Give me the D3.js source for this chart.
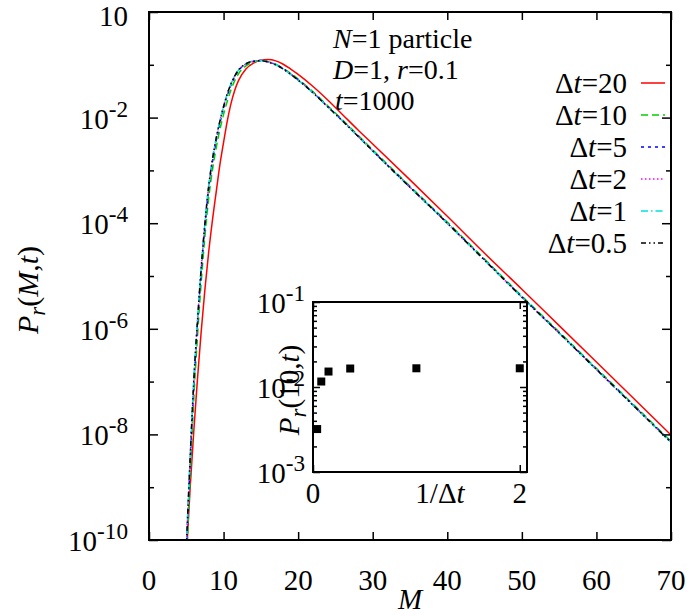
<!DOCTYPE html>
<html><head><meta charset="utf-8">
<script src="https://cdn.jsdelivr.net/npm/d3@7"></script>
<style>
body{margin:0;background:#fff}
svg{display:block}
text{font-family:"Liberation Serif","Times New Roman",Tinos,"DejaVu Serif",serif;fill:#000}
</style>
</head><body>
<svg id="c" width="692" height="616" font-family="Liberation Serif, Times New Roman, serif"></svg>
<script>
// ---------------- data ----------------
const M = [5, 5.5, 6, 6.5, 7, 7.5, 8, 8.5, 9, 9.5, 10, 10.5, 11, 11.5, 12, 13, 14, 15, 16, 17, 18, 19, 20, 22, 24, 26, 28, 30, 35, 40, 45, 50, 55, 60, 65, 70];
// log10 P_r(M,t) for each time step
const logP_dt20 = [-10.35, -9.05, -7.95, -6.95, -6.05, -5.25, -4.55, -3.95, -3.42, -2.9, -2.47, -2.06, -1.73, -1.48, -1.3, -1.08, -0.97, -0.915, -0.9, -0.925, -0.99, -1.08, -1.18, -1.41, -1.67, -1.95, -2.23, -2.5, -3.18, -3.87, -4.57, -5.25, -5.94, -6.63, -7.32, -8.01];
const logP_dt10 = [-10.5, -8.85, -7.35, -6.15, -5.12, -4.25, -3.53, -3.0, -2.58, -2.23, -1.94, -1.69, -1.47, -1.3, -1.17, -1.02, -0.95, -0.92, -0.94, -0.99, -1.07, -1.16, -1.27, -1.51, -1.78, -2.05, -2.33, -2.61, -3.3, -3.98, -4.68, -5.38, -6.06, -6.75, -7.44, -8.13];
const logP_dt5  = [-10.25, -8.6, -7.1, -5.93, -4.92, -4.06, -3.36, -2.85, -2.45, -2.11, -1.82, -1.58, -1.38, -1.23, -1.11, -0.985, -0.935, -0.92, -0.945, -0.995, -1.075, -1.175, -1.285, -1.525, -1.795, -2.065, -2.345, -2.625, -3.315, -3.995, -4.695, -5.395, -6.075, -6.765, -7.455, -8.145];
const logP_dt2  = [-10.17, -8.52, -7.02, -5.86, -4.86, -4.01, -3.31, -2.81, -2.41, -2.07, -1.79, -1.55, -1.36, -1.21, -1.1, -0.98, -0.93, -0.92, -0.95, -1.0, -1.08, -1.18, -1.29, -1.53, -1.8, -2.07, -2.35, -2.63, -3.32, -4.0, -4.7, -5.4, -6.08, -6.77, -7.46, -8.15];
const logP_dt1  = [-10.16, -8.51, -7.01, -5.85, -4.85, -4.0, -3.3, -2.8, -2.4, -2.07, -1.79, -1.55, -1.36, -1.21, -1.1, -0.98, -0.93, -0.92, -0.95, -1.0, -1.08, -1.18, -1.29, -1.53, -1.8, -2.07, -2.35, -2.63, -3.32, -4.0, -4.7, -5.4, -6.08, -6.77, -7.46, -8.15];
const logP_dt05 = [-10.15, -8.5, -7.0, -5.85, -4.85, -4.0, -3.3, -2.8, -2.4, -2.07, -1.79, -1.55, -1.36, -1.21, -1.1, -0.98, -0.93, -0.92, -0.95, -1.0, -1.08, -1.18, -1.29, -1.53, -1.8, -2.07, -2.35, -2.63, -3.32, -4.0, -4.7, -5.4, -6.08, -6.77, -7.46, -8.15];
const seriesNames = ["20", "10", "5", "2", "1", "0.5"];
const seriesColors = ["#ff0000", "#00d000", "#0000ff", "#ff00ff", "#00e0e0", "#000000"];
const seriesDash = [null, "7,4", "3,4", "1.5,2.5", "7,3,1.5,3", "5,3,1.5,3,1.5,3"];

const xTicks = [0, 10, 20, 30, 40, 50, 60, 70];
const yMajor = [1, 1e-2, 1e-4, 1e-6, 1e-8, 1e-10];
const yMajorLabels = [["10", ""], ["10", "-2"], ["10", "-4"], ["10", "-6"], ["10", "-8"], ["10", "-10"]];
const yMinor = [1e-1, 1e-3, 1e-5, 1e-7, 1e-9];

// inset data (positions)
const invDt = [0.04, 0.08, 0.15, 0.36, 1, 2];
const P10 = [0.0032, 0.0116, 0.0152, 0.0165, 0.0166, 0.0166];
const insetYTicks = [1e-1, 1e-2, 1e-3];
const insetYLabels = [["10", "-1"], ["10", "-2"], ["10", "-3"]];
const insetXTicks = [0, 2];

// ---------------- drawing ----------------
const svg = d3.select("#c");
const FS = 29;
const L = 149, R = 671, T = 12, B = 540;
const x = d3.scaleLinear().domain([0, 70]).range([L, R]);
const y = d3.scaleLog().domain([1e-10, 1]).range([B, T]);

svg.append("defs").append("clipPath").attr("id", "clipMain")
  .append("rect").attr("x", L).attr("y", T).attr("width", R - L).attr("height", B - T);

const allSeries = [logP_dt20, logP_dt10, logP_dt5, logP_dt2, logP_dt1, logP_dt05];
const line = d3.line().x(d => x(d[0])).y(d => y(Math.pow(10, d[1]))).curve(d3.curveMonotoneX);
const gLines = svg.append("g").attr("clip-path", "url(#clipMain)");
allSeries.forEach((s, i) => {
  gLines.append("path")
    .attr("d", line(M.map((m, j) => [m, s[j]])))
    .attr("fill", "none")
    .attr("stroke", seriesColors[i])
    .attr("stroke-width", 1.5)
    .attr("stroke-dasharray", seriesDash[i]);
});

// axes ticks (inward, mirrored)
const axG = svg.append("g");
axG.append("g").attr("transform", `translate(0,${B})`)
  .call(d3.axisBottom(x).tickValues(xTicks).tickSize(-8).tickFormat(""));
axG.append("g").attr("transform", `translate(0,${T})`)
  .call(d3.axisTop(x).tickValues(xTicks).tickSize(-8).tickFormat(""));
axG.append("g").attr("transform", `translate(${L},0)`)
  .call(d3.axisLeft(y).tickValues(yMajor).tickSize(-9).tickFormat(""));
axG.append("g").attr("transform", `translate(${R},0)`)
  .call(d3.axisRight(y).tickValues(yMajor).tickSize(-9).tickFormat(""));
axG.append("g").attr("transform", `translate(${L},0)`)
  .call(d3.axisLeft(y).tickValues(yMinor).tickSize(-5).tickFormat(""));
axG.append("g").attr("transform", `translate(${R},0)`)
  .call(d3.axisRight(y).tickValues(yMinor).tickSize(-5).tickFormat(""));
axG.selectAll(".domain").remove();
axG.selectAll(".tick line").attr("stroke", "#000").attr("stroke-width", 1.5);

svg.append("rect").attr("x", L).attr("y", T).attr("width", R - L).attr("height", B - T)
  .attr("fill", "none").attr("stroke", "#000").attr("stroke-width", 2);

// tick labels
xTicks.forEach(v => {
  svg.append("text").attr("x", x(v)).attr("y", B + 50).attr("text-anchor", "middle")
    .attr("font-size", FS).text(v);
});
function powLabel(sel, base, sup) {
  sel.append("tspan").text(base);
  if (sup) sel.append("tspan").attr("dy", -12).attr("font-size", FS * 0.8).text(sup);
}
yMajor.forEach((v, i) => {
  const t = svg.append("text").attr("x", 128).attr("y", Math.max(y(v) + 11, 26)).attr("text-anchor", "end")
    .attr("font-size", FS);
  powLabel(t, yMajorLabels[i][0], yMajorLabels[i][1]);
});

// axis titles
svg.append("text").attr("x", (L + R) / 2).attr("y", 609).attr("text-anchor", "middle")
  .attr("font-size", FS).attr("font-style", "italic").text("M");
function prLabel(t, inner) {
  t.append("tspan").attr("font-style", "italic").text("P");
  t.append("tspan").attr("font-style", "italic").attr("font-size", FS * 0.8).attr("dy", 7).text("r");
  t.append("tspan").attr("dy", -7).text("(");
  inner(t);
  t.append("tspan").text(",");
  t.append("tspan").attr("font-style", "italic").text("t");
  t.append("tspan").text(")");
}
const yl = svg.append("text").attr("transform", `translate(38,290) rotate(-90)`)
  .attr("text-anchor", "middle").attr("font-size", FS + 1);
prLabel(yl, t => t.append("tspan").attr("font-style", "italic").text("M"));

// annotation text
const annX = 333, annFS = 28;
const a1 = svg.append("text").attr("x", annX).attr("y", 48).attr("font-size", annFS);
a1.append("tspan").attr("font-style", "italic").text("N");
a1.append("tspan").text("=1 particle");
const a2 = svg.append("text").attr("x", annX).attr("y", 79).attr("font-size", annFS);
a2.append("tspan").attr("font-style", "italic").text("D");
a2.append("tspan").text("=1, ");
a2.append("tspan").attr("font-style", "italic").text("r");
a2.append("tspan").text("=0.1");
const a3 = svg.append("text").attr("x", annX + 2).attr("y", 110).attr("font-size", annFS);
a3.append("tspan").attr("font-style", "italic").text("t");
a3.append("tspan").text("=1000");

// legend
seriesNames.forEach((n, i) => {
  const by = 93 + 32 * i;
  const t = svg.append("text").attr("x", 627).attr("y", by).attr("text-anchor", "end").attr("font-size", FS);
  t.append("tspan").text("\u0394");
  t.append("tspan").attr("font-style", "italic").text("t");
  t.append("tspan").text("=" + n);
  svg.append("line").attr("x1", 641).attr("x2", 665).attr("y1", by - 10).attr("y2", by - 10)
    .attr("stroke", seriesColors[i]).attr("stroke-width", 1.5)
    .attr("stroke-dasharray", seriesDash[i]);
});

// ---------------- inset ----------------
const iL = 313, iR = 527, iT = 302, iB = 472;
const ix = d3.scaleLinear().domain([0, 2.07]).range([iL, iR]);
const iy = d3.scaleLog().domain([1e-3, 1e-1]).range([iB, iT]);
svg.append("rect").attr("x", iL).attr("y", iT).attr("width", iR - iL).attr("height", iB - iT)
  .attr("fill", "#fff");
const iax = svg.append("g");
const minorVals = [];
[1e-3, 1e-2].forEach(d => { for (let k = 2; k <= 9; k++) minorVals.push(k * d); });
iax.append("g").attr("transform", `translate(${iL},0)`)
  .call(d3.axisLeft(iy).tickValues(insetYTicks).tickSize(-7).tickFormat(""));
iax.append("g").attr("transform", `translate(${iR},0)`)
  .call(d3.axisRight(iy).tickValues(insetYTicks).tickSize(-7).tickFormat(""));
iax.append("g").attr("transform", `translate(${iL},0)`)
  .call(d3.axisLeft(iy).tickValues(minorVals).tickSize(-4).tickFormat(""));
iax.append("g").attr("transform", `translate(${iR},0)`)
  .call(d3.axisRight(iy).tickValues(minorVals).tickSize(-4).tickFormat(""));
iax.append("g").attr("transform", `translate(0,${iB})`)
  .call(d3.axisBottom(ix).tickValues(insetXTicks).tickSize(-7).tickFormat(""));
iax.append("g").attr("transform", `translate(0,${iT})`)
  .call(d3.axisTop(ix).tickValues(insetXTicks).tickSize(-7).tickFormat(""));
iax.selectAll(".domain").remove();
iax.selectAll(".tick line").attr("stroke", "#000").attr("stroke-width", 1.5);
svg.append("rect").attr("x", iL).attr("y", iT).attr("width", iR - iL).attr("height", iB - iT)
  .attr("fill", "none").attr("stroke", "#000").attr("stroke-width", 2);

insetYTicks.forEach((v, i) => {
  const t = svg.append("text").attr("x", 305).attr("y", iy(v) + 11).attr("text-anchor", "end")
    .attr("font-size", FS);
  powLabel(t, insetYLabels[i][0], insetYLabels[i][1]);
});
insetXTicks.forEach(v => {
  svg.append("text").attr("x", ix(v)).attr("y", 503).attr("text-anchor", "middle")
    .attr("font-size", FS).text(v);
});
const ixl = svg.append("text").attr("x", 440).attr("y", 503).attr("text-anchor", "middle").attr("font-size", FS);
ixl.append("tspan").text("1/\u0394");
ixl.append("tspan").attr("font-style", "italic").text("t");

const iyl = svg.append("text").attr("transform", `translate(299,390) rotate(-90)`)
  .attr("text-anchor", "middle").attr("font-size", FS);
prLabel(iyl, t => t.append("tspan").text("10"));

svg.append("g").selectAll("rect").data(invDt).join("rect")
  .attr("x", (d, i) => ix(d) - 4).attr("y", (d, i) => iy(P10[i]) - 4)
  .attr("width", 8).attr("height", 8).attr("fill", "#000");
</script>
</body></html>
